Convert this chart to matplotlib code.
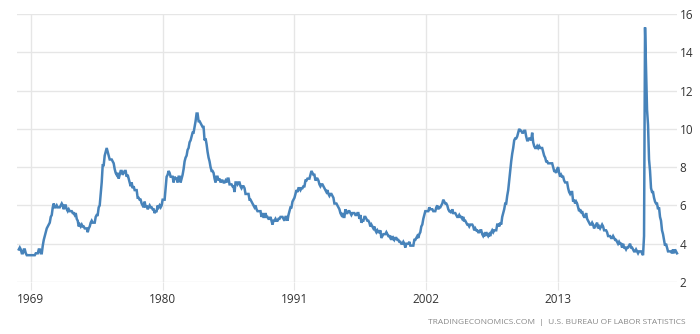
import matplotlib
matplotlib.use("Agg")
import matplotlib.pyplot as plt
import numpy as np

start_year = 1968
rates = {
    1968: [3.7, 3.8, 3.7, 3.5, 3.5, 3.7, 3.7, 3.5, 3.4, 3.4, 3.4, 3.4],
    1969: [3.4, 3.4, 3.4, 3.4, 3.4, 3.5, 3.5, 3.5, 3.7, 3.7, 3.5, 3.5],
    1970: [3.9, 4.2, 4.4, 4.6, 4.8, 4.9, 5.0, 5.1, 5.4, 5.5, 5.9, 6.1],
    1971: [5.9, 5.9, 6.0, 5.9, 5.9, 5.9, 6.0, 6.1, 6.0, 5.8, 6.0, 6.0],
    1972: [5.8, 5.7, 5.8, 5.7, 5.7, 5.7, 5.6, 5.6, 5.5, 5.6, 5.3, 5.2],
    1973: [4.9, 5.0, 4.9, 5.0, 4.9, 4.9, 4.8, 4.8, 4.8, 4.6, 4.8, 4.9],
    1974: [5.1, 5.2, 5.1, 5.1, 5.1, 5.4, 5.5, 5.5, 5.9, 6.0, 6.6, 7.2],
    1975: [8.1, 8.1, 8.6, 8.8, 9.0, 8.8, 8.6, 8.4, 8.4, 8.4, 8.3, 8.2],
    1976: [7.9, 7.7, 7.6, 7.7, 7.4, 7.6, 7.8, 7.8, 7.6, 7.7, 7.8, 7.8],
    1977: [7.5, 7.6, 7.4, 7.2, 7.0, 7.2, 6.9, 7.0, 6.8, 6.8, 6.8, 6.4],
    1978: [6.4, 6.3, 6.3, 6.1, 6.0, 5.9, 6.2, 5.9, 6.0, 5.8, 5.9, 6.0],
    1979: [5.9, 5.9, 5.8, 5.8, 5.6, 5.7, 5.7, 6.0, 5.9, 6.0, 5.9, 6.0],
    1980: [6.3, 6.3, 6.3, 6.9, 7.5, 7.6, 7.8, 7.7, 7.5, 7.5, 7.5, 7.2],
    1981: [7.5, 7.4, 7.4, 7.2, 7.5, 7.5, 7.2, 7.4, 7.6, 7.9, 8.3, 8.5],
    1982: [8.6, 8.9, 9.0, 9.3, 9.4, 9.6, 9.8, 9.8, 10.1, 10.4, 10.8, 10.8],
    1983: [10.4, 10.4, 10.3, 10.2, 10.1, 10.1, 9.4, 9.5, 9.2, 8.8, 8.5, 8.3],
    1984: [8.0, 7.8, 7.8, 7.7, 7.4, 7.2, 7.5, 7.5, 7.3, 7.4, 7.2, 7.3],
    1985: [7.3, 7.2, 7.2, 7.3, 7.2, 7.4, 7.4, 7.1, 7.1, 7.1, 7.0, 7.0],
    1986: [6.7, 7.2, 7.2, 7.1, 7.2, 7.2, 7.0, 6.9, 7.0, 7.0, 6.9, 6.6],
    1987: [6.6, 6.6, 6.6, 6.3, 6.3, 6.2, 6.1, 6.0, 5.9, 6.0, 5.8, 5.7],
    1988: [5.7, 5.7, 5.7, 5.4, 5.6, 5.4, 5.4, 5.6, 5.4, 5.4, 5.3, 5.3],
    1989: [5.4, 5.2, 5.0, 5.2, 5.2, 5.3, 5.2, 5.2, 5.3, 5.3, 5.4, 5.4],
    1990: [5.4, 5.3, 5.2, 5.4, 5.4, 5.2, 5.5, 5.7, 5.9, 5.9, 6.2, 6.3],
    1991: [6.4, 6.6, 6.8, 6.7, 6.9, 6.9, 6.8, 6.9, 6.9, 7.0, 7.0, 7.3],
    1992: [7.3, 7.4, 7.4, 7.4, 7.6, 7.8, 7.7, 7.6, 7.6, 7.3, 7.4, 7.4],
    1993: [7.3, 7.1, 7.0, 7.1, 7.1, 7.0, 6.9, 6.8, 6.7, 6.8, 6.6, 6.5],
    1994: [6.6, 6.6, 6.5, 6.4, 6.1, 6.1, 6.1, 6.0, 5.9, 5.8, 5.6, 5.5],
    1995: [5.6, 5.4, 5.4, 5.8, 5.6, 5.6, 5.7, 5.7, 5.6, 5.5, 5.6, 5.6],
    1996: [5.6, 5.5, 5.5, 5.6, 5.6, 5.3, 5.5, 5.1, 5.2, 5.2, 5.4, 5.4],
    1997: [5.3, 5.2, 5.2, 5.1, 4.9, 5.0, 4.9, 4.8, 4.9, 4.7, 4.6, 4.7],
    1998: [4.6, 4.6, 4.7, 4.3, 4.4, 4.5, 4.5, 4.5, 4.6, 4.5, 4.4, 4.4],
    1999: [4.3, 4.4, 4.2, 4.3, 4.2, 4.3, 4.3, 4.2, 4.2, 4.1, 4.1, 4.0],
    2000: [4.0, 4.1, 4.0, 3.8, 4.0, 4.0, 4.0, 4.1, 3.9, 3.9, 3.9, 3.9],
    2001: [4.2, 4.2, 4.3, 4.4, 4.3, 4.5, 4.6, 4.9, 5.0, 5.3, 5.5, 5.7],
    2002: [5.7, 5.7, 5.7, 5.9, 5.8, 5.8, 5.8, 5.7, 5.7, 5.7, 5.9, 6.0],
    2003: [5.8, 5.9, 5.9, 6.0, 6.1, 6.3, 6.2, 6.1, 6.1, 6.0, 5.8, 5.7],
    2004: [5.7, 5.6, 5.8, 5.6, 5.6, 5.6, 5.5, 5.4, 5.4, 5.5, 5.4, 5.4],
    2005: [5.3, 5.4, 5.2, 5.2, 5.1, 5.0, 5.0, 4.9, 5.0, 5.0, 5.0, 4.9],
    2006: [4.7, 4.8, 4.7, 4.7, 4.6, 4.6, 4.7, 4.7, 4.5, 4.4, 4.5, 4.4],
    2007: [4.6, 4.5, 4.4, 4.5, 4.4, 4.6, 4.7, 4.6, 4.7, 4.7, 4.7, 5.0],
    2008: [5.0, 4.9, 5.1, 5.0, 5.4, 5.6, 5.8, 6.1, 6.1, 6.5, 6.8, 7.3],
    2009: [7.8, 8.3, 8.7, 9.0, 9.4, 9.5, 9.5, 9.6, 9.8, 10.0, 9.9, 9.9],
    2010: [9.8, 9.8, 9.9, 9.9, 9.6, 9.4, 9.4, 9.5, 9.5, 9.4, 9.8, 9.3],
    2011: [9.1, 9.0, 9.0, 9.1, 9.0, 9.1, 9.0, 9.0, 9.0, 8.8, 8.6, 8.5],
    2012: [8.3, 8.3, 8.2, 8.2, 8.2, 8.2, 8.2, 8.0, 7.8, 7.8, 7.7, 7.9],
    2013: [8.0, 7.7, 7.5, 7.6, 7.5, 7.5, 7.3, 7.2, 7.2, 7.2, 6.9, 6.7],
    2014: [6.6, 6.7, 6.7, 6.2, 6.3, 6.1, 6.2, 6.1, 5.9, 5.7, 5.8, 5.6],
    2015: [5.7, 5.5, 5.4, 5.4, 5.6, 5.3, 5.2, 5.1, 5.0, 5.0, 5.1, 5.0],
    2016: [4.8, 4.9, 5.0, 5.1, 4.8, 4.9, 4.8, 4.9, 5.0, 4.9, 4.7, 4.7],
    2017: [4.7, 4.6, 4.4, 4.4, 4.4, 4.3, 4.3, 4.4, 4.3, 4.2, 4.2, 4.1],
    2018: [4.0, 4.1, 4.0, 4.0, 3.8, 4.0, 3.8, 3.8, 3.7, 3.8, 3.8, 3.9],
    2019: [4.0, 3.8, 3.8, 3.7, 3.6, 3.6, 3.7, 3.6, 3.5, 3.6, 3.6, 3.6],
    2020: [3.5, 3.4, 4.4, 15.3, 13.2, 11.0, 10.2, 8.4, 7.8, 6.9, 6.7, 6.7],
    2021: [6.4, 6.2, 6.1, 6.1, 5.8, 5.9, 5.4, 5.2, 4.7, 4.5, 4.2, 3.9],
    2022: [4.0, 3.8, 3.6, 3.6, 3.6, 3.6, 3.5, 3.7, 3.5, 3.7, 3.6, 3.5],
}
tick_years = [1969, 1980, 1991, 2002, 2013]
y_ticks = [2, 4, 6, 8, 10, 12, 14, 16]
source_text = "TRADINGECONOMICS.COM  |  U.S. BUREAU OF LABOR STATISTICS"

values = np.concatenate([rates[y] for y in sorted(rates)])
x = start_year + np.arange(len(values)) / 12.0

fig = plt.figure(figsize=(7.0, 3.34), dpi=100)
ax = fig.add_axes([17/700, 52/334, (677-17)/700, (320-52)/334])
ax.plot(x, values, color="#4783ba", lw=1.8, solid_joinstyle="miter", clip_on=False)

ax.set_xlim(1967.85, x[-1])
ax.set_ylim(2, 16)
ax.set_xticks(tick_years)
ax.set_xticklabels([str(t) for t in tick_years])
ax.set_yticks(y_ticks)
ax.yaxis.tick_right()
for s in ax.spines.values():
    s.set_visible(False)
ax.grid(True, color="#e6e6e6", lw=1.0)
ax.set_axisbelow(True)
ax.tick_params(axis="x", length=6, color="#e6e6e6", pad=2, labelsize=8.5, labelcolor="#333333")
ax.tick_params(axis="y", length=0, pad=2, labelsize=8.5, labelcolor="#333333")
for lab in ax.get_xticklabels() + ax.get_yticklabels():
    lab.set_fontfamily("Open Sans")

fig.text(686/700, 1 - 323/334, source_text, ha="right", va="center",
         fontsize=6, color="#888888", family="Open Sans")

fig.savefig("out.png", dpi=100)
